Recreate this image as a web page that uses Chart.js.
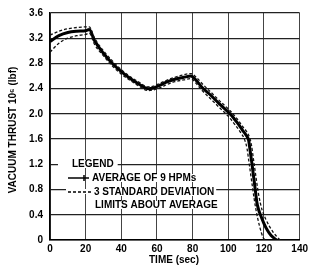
<!DOCTYPE html>
<html>
<head>
<meta charset="utf-8">
<script src="https://cdn.jsdelivr.net/npm/chart.js@4.4.1/dist/chart.umd.min.js"></script>
<style>
    html, body { margin: 0; padding: 0; background: #fff; }
    #wrap { width: 311px; height: 267px; position: relative; }
</style>
</head>
<body>
<div id="wrap"><canvas id="grafico"></canvas></div>
<script>
// Datos (tiempo en s, empuje en 10^6 lbf)
let tiempoMedia = [0, 5, 10, 15, 20, 22, 25, 30, 35, 40, 45, 50, 55, 58, 62, 66, 70, 75, 79, 82, 85.6, 90, 95, 101, 105, 108, 110, 111.4, 112.3, 113.3, 114.2, 115.1, 116, 117, 118, 120, 122, 124, 127];
let empujeMedia = [3.15, 3.24, 3.29, 3.31, 3.32, 3.34, 3.16, 2.96, 2.8, 2.67, 2.56, 2.47, 2.4, 2.41, 2.46, 2.51, 2.55, 2.58, 2.6, 2.53, 2.41, 2.3, 2.16, 2.0, 1.86, 1.74, 1.66, 1.58, 1.4, 1.2, 1.0, 0.8, 0.6, 0.48, 0.4, 0.26, 0.15, 0.07, 0];

let tiempoSuperior = [0, 5, 10, 15, 20, 22, 25, 30, 35, 40, 45, 50, 55, 58, 62, 66, 70, 75, 79, 82, 86, 90, 95, 101, 105, 108, 110, 112, 113, 114, 115, 116, 117, 118, 119, 121, 123, 125, 127, 129];
let empujeSuperior = [3.25, 3.31, 3.35, 3.37, 3.38, 3.38, 3.2, 3.0, 2.84, 2.7, 2.59, 2.5, 2.43, 2.44, 2.49, 2.54, 2.58, 2.62, 2.64, 2.58, 2.46, 2.35, 2.21, 2.05, 1.92, 1.8, 1.73, 1.62, 1.5, 1.3, 1.1, 0.9, 0.72, 0.58, 0.47, 0.33, 0.22, 0.13, 0.06, 0];

let tiempoInferior = [0, 5, 10, 15, 20, 22, 25, 30, 35, 40, 45, 50, 55, 58, 62, 66, 70, 75, 79, 82, 85, 90, 95, 100, 104, 107, 109, 110.5, 111.5, 112.5, 113.5, 114.5, 115.5, 116.5, 117.5, 118.5, 119.5, 120.5];
let empujeInferior = [2.98, 3.12, 3.2, 3.24, 3.26, 3.28, 3.1, 2.92, 2.76, 2.63, 2.53, 2.44, 2.37, 2.38, 2.42, 2.47, 2.51, 2.54, 2.56, 2.48, 2.38, 2.24, 2.1, 1.96, 1.82, 1.7, 1.6, 1.45, 1.25, 1.05, 0.85, 0.65, 0.48, 0.34, 0.22, 0.12, 0.04, 0];

let ticksX = [0, 20, 40, 60, 80, 100, 120, 140];
let ticksY = [0, 0.4, 0.8, 1.2, 1.6, 2.0, 2.4, 2.8, 3.2, 3.6];
let etiquetasY = ['0', '0.4', '0.8', '1.2', '1.6', '2.0', '2.4', '2.8', '3.2', '3.6'];

let tituloX = 'TIME (sec)';
let tituloY = 'VACUUM THRUST 10\u2076 (lbf)';
let textoLeyenda = ['LEGEND', 'AVERAGE OF 9 HPMs', '3 STANDARD DEVIATION', 'LIMITS ABOUT AVERAGE'];

function aPuntos(xs, ys) {
    let puntos = [];
    for (let i = 0; i < xs.length; i++) {
        puntos.push({ x: xs[i], y: ys[i] });
    }
    return puntos;
}

let fuente = 'bold 10px "Liberation Sans", Arial, sans-serif';

// Titulos de ejes y leyenda dibujados a mano
let pluginTextos = {
    id: 'textos',
    afterDatasetsDraw: function(chart) {
        let ctx = chart.ctx;
        ctx.save();
        ctx.font = fuente;
        ctx.fillStyle = '#000';
        ctx.textBaseline = 'middle';

        // titulo eje X
        ctx.textAlign = 'center';
        ctx.fillText(tituloX, 174, 260);

        // titulo eje Y
        ctx.save();
        ctx.translate(13, 130);
        ctx.rotate(-Math.PI / 2);
        ctx.fillText(tituloY, 0, 0);
        ctx.restore();

        // leyenda
        ctx.textAlign = 'left';
        let filas = [
            { texto: textoLeyenda[0], x: 72, y: 164 },
            { texto: textoLeyenda[1], x: 92, y: 178 },
            { texto: textoLeyenda[2], x: 94, y: 192 },
            { texto: textoLeyenda[3], x: 95, y: 205 }
        ];
        for (let i = 0; i < filas.length; i++) {
            let f = filas[i];
            let ancho = ctx.measureText(f.texto).width;
            ctx.fillStyle = '#fff';
            ctx.fillRect(f.x - (i === 0 ? 14 : 2), f.y - 4, ancho + (i === 0 ? 18 : 4), 8);
            ctx.fillStyle = '#000';
            ctx.fillText(f.texto, f.x, f.y);
        }

        // muestra linea continua
        ctx.strokeStyle = '#000';
        ctx.lineWidth = 1.5;
        ctx.setLineDash([]);
        ctx.beginPath();
        ctx.moveTo(68, 178);
        ctx.lineTo(89, 178);
        ctx.moveTo(84, 175);
        ctx.lineTo(84, 181);
        ctx.stroke();

        // muestra linea discontinua
        ctx.fillStyle = '#fff';
        ctx.fillRect(66, 189, 27, 5);
        ctx.setLineDash([3, 2]);
        ctx.beginPath();
        ctx.moveTo(68, 192);
        ctx.lineTo(91, 192);
        ctx.stroke();
        ctx.restore();
    }
};

let ctx = document.getElementById('grafico').getContext('2d');
let miGrafico = new Chart(ctx, {
    type: 'line',
    data: {
        datasets: [
            {
                label: 'Upper limit',
                data: aPuntos(tiempoSuperior, empujeSuperior),
                borderColor: '#111',
                borderWidth: 1.3,
                borderDash: [3, 2],
                pointRadius: 0,
                cubicInterpolationMode: 'monotone',
                fill: false
            },
            {
                label: 'Lower limit',
                data: aPuntos(tiempoInferior, empujeInferior),
                borderColor: '#111',
                borderWidth: 1.3,
                borderDash: [3, 2],
                pointRadius: 0,
                cubicInterpolationMode: 'monotone',
                fill: false
            },
            {
                label: 'Average of 9 HPMs',
                data: aPuntos(tiempoMedia, empujeMedia),
                borderColor: '#000',
                borderWidth: 3,
                pointRadius: 0,
                cubicInterpolationMode: 'monotone',
                fill: false
            }
        ]
    },
    options: {
        responsive: true,
        maintainAspectRatio: false,
        animation: false,
        layout: { padding: { top: 12, right: 8, left: 0, bottom: 0 } },
        plugins: {
            legend: { display: false },
            tooltip: { enabled: false }
        },
        scales: {
            x: {
                type: 'linear',
                min: 0,
                max: 140,
                afterBuildTicks: function(scale) {
                    scale.ticks = ticksX.map(function(v) { return { value: v }; });
                },
                afterFit: function(scale) { scale.height = 27; },
                ticks: {
                    color: '#000',
                    font: { family: '"Liberation Sans", Arial, sans-serif', size: 10, weight: 'bold' },
                    padding: 3,
                    maxRotation: 0,
                    callback: function(v) { return String(v); }
                },
                grid: { color: '#444', lineWidth: 1, drawTicks: false },
                border: { color: '#000', width: 1.5 }
            },
            y: {
                type: 'linear',
                min: 0,
                max: 3.6,
                afterBuildTicks: function(scale) {
                    scale.ticks = ticksY.map(function(v) { return { value: v }; });
                },
                afterFit: function(scale) { scale.width = 50; },
                ticks: {
                    color: '#000',
                    font: { family: '"Liberation Sans", Arial, sans-serif', size: 10, weight: 'bold' },
                    padding: 7,
                    callback: function(v) {
                        let idx = ticksY.indexOf(Math.round(v * 10) / 10);
                        return idx >= 0 ? etiquetasY[idx] : '';
                    }
                },
                grid: { color: '#222', lineWidth: 1.3, drawTicks: false },
                border: { color: '#000', width: 1.5 }
            }
        }
    },
    plugins: [pluginTextos]
});
</script>
</body>
</html>
